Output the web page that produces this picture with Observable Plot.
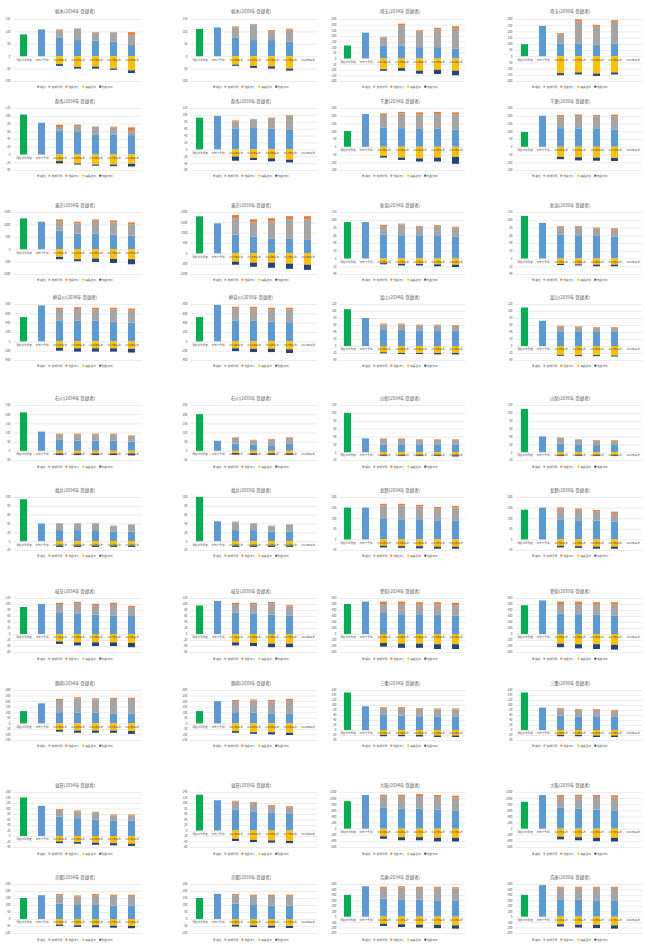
<!DOCTYPE html>
<html><head><meta charset="utf-8">
<script src="https://cdn.jsdelivr.net/npm/d3@7"></script>
<script src="https://cdn.jsdelivr.net/npm/@observablehq/plot@0.6"></script>
<style>
html,body{margin:0;padding:0;background:#fff;}
body{width:646px;height:947px;position:relative;overflow:hidden;font-family:"Noto Sans CJK JP","Noto Sans",sans-serif;}
.box{position:absolute;}
.title{position:absolute;font-size:4.4px;color:#595959;white-space:nowrap;transform:translate(-50%,-50%);line-height:1;}
.legend{position:absolute;font-size:2.7px;color:#595959;white-space:nowrap;transform:translate(-50%,-50%);line-height:1;display:flex;gap:3px;align-items:center;}
.legend i{display:inline-block;width:2px;height:2px;margin-right:1px;vertical-align:middle;}
</style></head><body>
<script>
const titles = [
"栃木(2034年 登録者)","栃木(2039年 登録者)","埼玉(2034年 登録者)","埼玉(2039年 登録者)",
"群馬(2034年 登録者)","群馬(2039年 登録者)","千葉(2034年 登録者)","千葉(2039年 登録者)",
"東京(2034年 登録者)","東京(2039年 登録者)","新潟(2034年 登録者)","新潟(2039年 登録者)",
"神奈川(2034年 登録者)","神奈川(2039年 登録者)","富山(2034年 登録者)","富山(2039年 登録者)",
"石川(2034年 登録者)","石川(2039年 登録者)","山梨(2034年 登録者)","山梨(2039年 登録者)",
"福井(2034年 登録者)","福井(2039年 登録者)","長野(2034年 登録者)","長野(2039年 登録者)",
"岐阜(2034年 登録者)","岐阜(2039年 登録者)","愛知(2034年 登録者)","愛知(2039年 登録者)",
"静岡(2034年 登録者)","静岡(2039年 登録者)","三重(2034年 登録者)","三重(2039年 登録者)",
"滋賀(2034年 登録者)","滋賀(2039年 登録者)","大阪(2034年 登録者)","大阪(2039年 登録者)",
"京都(2034年 登録者)","京都(2039年 登録者)","兵庫(2034年 登録者)","兵庫(2039年 登録者)"];
const categories = ["現在の登録者","平均で予測","2014年基準","2015年基準","2016年基準","2017年基準","2018年基準"];
const seriesNames = ["継続","新規登録","他県流入","高齢退出","他県流出"];
const yTop =    [150,150,350,300, 120,120,250,250, 1500,2000,120,120, 800,800,120,120, 250,250,120,120, 100,100,200,200, 120,120,600,600, 300,300,160,160, 160,140,1200,1200, 250,250,600,600];
const yBottom = [-100,-100,-200,-200, -40,-60,-150,-150, -1000,-1000,-40,-40, -400,-400,-40,-40, -50,-50,-20,-20, -20,-20,-50,-50, -60,-60,-300,-300, -150,-150,-40,-40, -40,-60,-600,-600, -100,-100,-300,-300];
const yStep =   [50,50,50,50, 20,20,50,50, 500,500,20,20, 200,200,20,20, 50,50,20,20, 20,20,50,50, 20,20,100,100, 50,50,20,20, 20,20,200,200, 50,50,100,100];
const current = [88,110,115,97, 103,92,102,95, 1243,1790,94,110, 520,520,105,110, 210,200,100,110, 95,100,150,140, 90,95,500,480, 110,110,150,150, 140,130,900,880, 150,150,400,400];
const average = [108,116,229,244, 82,97,211,200, 1108,1450,94,92, 770,780,80,72, 105,55,35,40, 40,45,150,150, 100,110,540,560, 180,200,95,90, 110,110,1100,1100, 170,180,560,580];
const keizoku = [
[76,65,62,58,45],[74,65,65,58,null],[115,115,100,100,86],[103,103,94,103,null],
[61,58,52,52,50],[61,62,60,58,null],[125,120,115,118,110],[120,118,115,112,null],
[743,635,635,595,540],[900,800,700,700,650],[62,60,58,60,56],[62,60,58,56,null],
[450,440,440,420,400],[450,440,420,410,null],[48,46,45,45,44],[42,40,40,40,null],
[60,55,55,55,50],[40,35,30,38,null],[20,20,20,20,20],[22,20,18,18,null],
[25,25,25,22,22],[25,25,22,22,null],[100,95,95,90,90],[95,90,88,85,null],
[70,68,65,62,60],[72,68,65,62,null],[350,330,330,320,310],[340,330,320,310,null],
[100,95,95,90,90],[100,95,90,90,null],[60,58,55,55,55],[58,55,55,52,null],
[70,65,60,55,55],[75,70,65,60,null],[700,650,650,620,600],[680,650,620,600,null],
[110,100,100,95,95],[110,100,95,95,null],[330,320,310,300,290],[320,310,300,290,null]];
const shinki = [
[27,46,34,38,41],[42,63,36,49,null],[71,177,143,158,178],[78,178,143,172,null],
[10,15,19,18,11],[20,25,29,39,null],[80,95,95,94,100],[75,80,80,85,null],
[365,405,514,486,460],[800,700,850,950,1000],[22,28,24,24,24],[20,22,20,20,null],
[230,250,240,260,260],[250,260,260,270,null],[14,16,14,14,14],[14,14,12,12,null],
[30,35,35,35,30],[30,22,32,32,null],[14,14,12,12,12],[14,12,12,12,null],
[15,15,15,12,15],[18,15,12,15,null],[60,65,60,55,60],[50,50,45,40,null],
[30,35,32,38,30],[28,32,38,30,null],[150,170,160,170,170],[160,170,170,180,null],
[110,130,120,130,130],[100,110,110,120,null],[28,30,30,28,28],[26,26,26,26,null],
[25,25,25,20,20],[30,30,25,25,null],[350,400,420,420,420],[360,400,420,430,null],
[60,60,70,70,70],[60,65,70,70,null],[200,220,220,230,230],[210,220,230,240,null]];
const ryunyu = [
[5,1,1,1,11],[4,2,4,4,null],[6,17,6,14,22],[6,16,16,15,null],
[6,4,1,2,9],[3,1,3,2,null],[10,10,12,13,12],[10,10,10,10,null],
[95,68,54,81,81],[150,150,150,150,150],[3,2,2,2,2],[2,2,2,2,null],
[40,40,40,40,40],[40,40,40,40,null],[2,2,2,2,2],[2,2,2,2,null],
[4,4,4,4,4],[3,3,3,3,null],[1,1,1,1,1],[1,1,1,1,null],
[1,1,1,1,1],[1,1,1,1,null],[8,8,8,8,8],[6,6,6,6,null],
[4,4,4,4,4],[4,4,4,4,null],[40,40,40,40,40],[40,40,40,40,null],
[10,10,10,10,10],[10,10,10,10,null],[3,3,3,3,3],[3,3,3,3,null],
[3,3,3,3,3],[3,3,3,3,null],[60,60,60,60,60],[60,60,60,60,null],
[8,8,8,8,8],[8,8,8,8,null],[20,20,20,20,20],[20,20,20,20,null]];
const taishutsu = [
[-32,-43,-42,-50,-57],[-34,-39,-41,-50,null],[-95,-86,-109,-100,-109],[-137,-131,-140,-131,null],
[-17,-23,-26,-26,-24],[-21,-25,-26,-30,null],[-60,-70,-75,-70,-65],[-65,-68,-70,-72,null],
[-311,-405,-378,-392,-405],[-400,-450,-450,-500,-550],[-12,-14,-14,-15,-16],[-14,-15,-16,-16,null],
[-140,-150,-150,-150,-160],[-150,-160,-160,-170,null],[-18,-20,-20,-20,-20],[-25,-26,-26,-27,null],
[-15,-15,-15,-15,-15],[-12,-14,-14,-14,null],[-8,-8,-8,-8,-8],[-8,-8,-8,-8,null],
[-10,-10,-10,-10,-10],[-10,-10,-10,-10,null],[-30,-32,-32,-34,-34],[-30,-32,-34,-34,null],
[-25,-28,-28,-28,-30],[-28,-30,-32,-32,null],[-150,-160,-160,-170,-170],[-160,-170,-170,-180,null],
[-60,-65,-65,-65,-70],[-70,-80,-80,-85,null],[-20,-20,-20,-22,-22],[-20,-20,-22,-22,null],
[-20,-22,-24,-26,-28],[-30,-34,-36,-38,null],[-250,-280,-280,-300,-300],[-260,-280,-300,-300,null],
[-40,-45,-45,-48,-50],[-42,-46,-48,-50,null],[-130,-140,-150,-150,-160],[-140,-150,-150,-160,null]];
const ryushutsu = [
[-7,-7,-8,-5,-11],[-5,-8,-9,-8,null],[-14,-23,-26,-38,-40],[-16,-16,-19,-16,null],
[-6,-3,-3,-4,-7],[-12,-6,-9,-8,null],[-10,-15,-20,-25,-45],[-15,-20,-20,-20,null],
[-94,-81,-136,-162,-203],[-150,-200,-250,-250,-250],[-3,-4,-4,-5,-6],[-3,-3,-4,-4,null],
[-60,-70,-70,-70,-80],[-60,-70,-70,-80,null],[-3,-3,-3,-4,-4],[-3,-3,-3,-3,null],
[-8,-8,-8,-8,-10],[-8,-8,-8,-8,null],[-2,-2,-2,-2,-3],[-2,-2,-2,-2,null],
[-3,-3,-3,-3,-3],[-3,-3,-3,-3,null],[-8,-8,-10,-10,-10],[-8,-8,-10,-10,null],
[-8,-10,-12,-12,-14],[-10,-10,-12,-12,null],[-60,-70,-70,-80,-80],[-60,-70,-80,-80,null],
[-15,-20,-20,-20,-25],[-15,-15,-20,-20,null],[-5,-5,-6,-6,-6],[-5,-5,-6,-6,null],
[-6,-6,-8,-8,-8],[-8,-8,-8,-8,null],[-80,-100,-100,-120,-120],[-90,-100,-110,-120,null],
[-10,-12,-14,-14,-16],[-12,-12,-14,-14,null],[-40,-50,-50,-60,-60],[-40,-50,-60,-60,null]];

const seriesDomain = ["現在","平均", ...seriesNames];
const seriesColors = ["#00B050","#5B9BD5","#5B9BD5","#A5A5A5","#ED7D31","#FFC000","#264478"];

const colLeft = [13,190,339,515];
const colRight = [142,317,465,642];
const colCenter = [75,251,400,570];
const titleY  = [11,101,205,297,398,490,591,683,785,877];
const plotTop = [19,108,212,304,405,497,598,690,792,884];
const plotBot = [81,170,274,360,460,550,652,740,847,933];
const legendY = [87,176,280,366,467,556,659,746,854,940];

const stacks = [keizoku, shinki, ryunyu, taishutsu, ryushutsu];
for (let i = 0; i < 40; i++) {
  const r = Math.floor(i / 4), c = i % 4;
  const rows = [
    {cat: categories[0], series: "現在", value: current[i]},
    {cat: categories[1], series: "平均", value: average[i]}
  ];
  for (let k = 0; k < 5; k++) {
    stacks.forEach((arr, s) => {
      const v = arr[i][k];
      if (v != null) rows.push({cat: categories[k + 2], series: seriesNames[s], value: v});
    });
  }
  const ticks = d3.range(yBottom[i], yTop[i] + yStep[i] / 2, yStep[i]);
  const mL = 22, mR = 2, mT = 3, mB = 3;
  const W = colRight[c] - colLeft[c] + mL + mR;
  const H = plotBot[r] - plotTop[r] + mT + mB;
  const svg = Plot.plot({
    width: W, height: H,
    marginLeft: mL, marginRight: mR, marginTop: mT, marginBottom: mB,
    style: {background: "transparent", fontFamily: "'Noto Sans CJK JP', sans-serif", overflow: "visible"},
    x: {domain: categories, paddingInner: 0.6, paddingOuter: 0.3, axis: null},
    y: {domain: [yBottom[i], yTop[i]], axis: null},
    color: {domain: seriesDomain, range: seriesColors},
    marks: [
      Plot.gridY({ticks, stroke: "#d9d9d9", strokeOpacity: 1, strokeWidth: 0.5}),
      Plot.axisY({ticks, label: null, tickSize: 0, tickPadding: 3, fontSize: 3, fill: "#595959", tickFormat: d => String(d)}),
      Plot.barY(rows, {x: "cat", y: "value", fill: "series"}),
      Plot.text(categories, {x: d => d, y: 0, dy: 3, fontSize: 2.6, fill: "#595959"})
    ]
  });
  const box = document.createElement("div");
  box.className = "box";
  box.style.left = (colLeft[c] - mL) + "px";
  box.style.top = (plotTop[r] - mT) + "px";
  box.style.width = W + "px";
  box.style.height = H + "px";
  box.appendChild(svg);
  document.body.appendChild(box);

  const t = document.createElement("div");
  t.className = "title";
  t.style.left = colCenter[c] + "px";
  t.style.top = titleY[r] + "px";
  t.textContent = titles[i];
  document.body.appendChild(t);

  const lg = document.createElement("div");
  lg.className = "legend";
  lg.style.left = colCenter[c] + "px";
  lg.style.top = legendY[r] + "px";
  seriesNames.forEach((n, s) => {
    const sp = document.createElement("span");
    const sq = document.createElement("i");
    sq.style.background = seriesColors[s + 2];
    sp.appendChild(sq);
    sp.appendChild(document.createTextNode(n));
    lg.appendChild(sp);
  });
  document.body.appendChild(lg);
}
</script>
</body></html>
